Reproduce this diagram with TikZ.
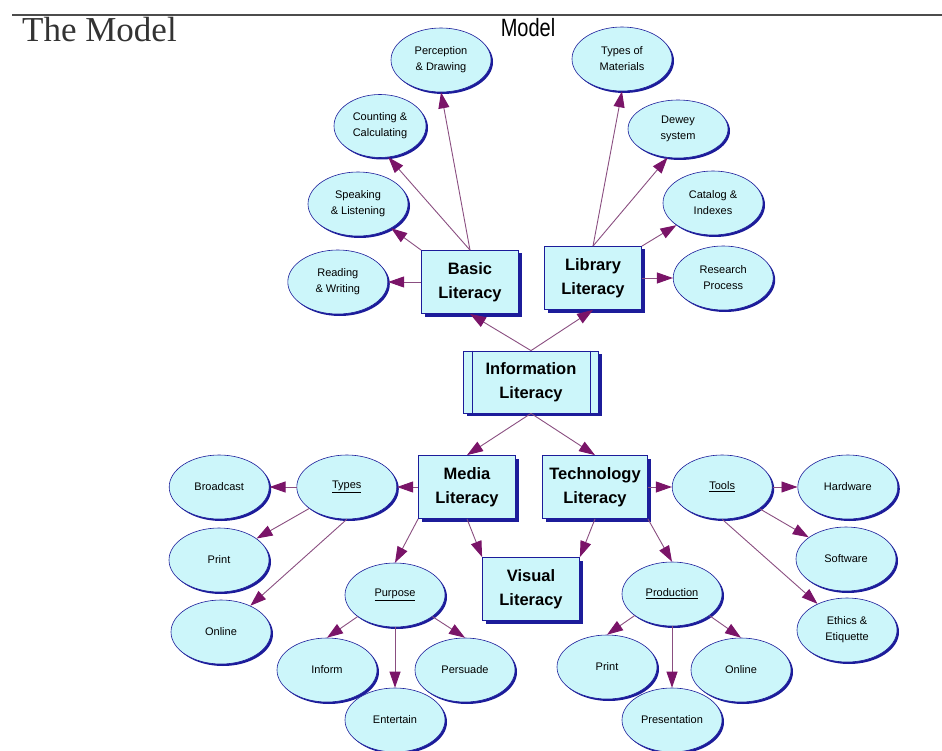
\documentclass[tikz,border=0pt]{standalone}
\usepackage{fontspec}
\setmainfont{Liberation Sans}
\newfontfamily\titlefont{Liberation Serif}
\usepackage{tikz}
\usetikzlibrary{positioning}
\usetikzlibrary{shapes.geometric}
\usetikzlibrary{shadows}
\usetikzlibrary{arrows.meta}

\definecolor{boxfill}{HTML}{CCF6FA}
\definecolor{boxline}{HTML}{1C1C9A}
\definecolor{arrline}{HTML}{8A4E80}
\definecolor{arrtip}{HTML}{7A1468}

\begin{document}
\begin{tikzpicture}[x=1pt,y=-1pt,
	lit/.style={rectangle, fill=boxfill, draw=boxline, line width=0.8pt, align=center, minimum width=97pt, minimum height=63pt, font=\fontsize{16.5}{24}\selectfont\bfseries, drop shadow={fill=boxline, opacity=1, shadow xshift=3pt, shadow yshift=-3pt}},
	topic/.style={ellipse, fill=boxfill, draw=boxline, line width=0.6pt, align=center, minimum width=100pt, minimum height=64pt, inner sep=0pt, font=\fontsize{11}{16}\selectfont, drop shadow={fill=boxline, opacity=1, shadow xshift=2pt, shadow yshift=-2pt}},
	link/.style={draw=arrline, line width=0.9pt, -{Triangle[length=16pt,width=11pt,color=arrtip]}}]
	\useasboundingbox (0,0) rectangle (942,751);
	\draw[black!70, line width=1.5pt] (12,15) -- (942,15);
	\node[anchor=base west, inner sep=0pt, text=black!80, font=\titlefont\fontsize{35}{35}\selectfont] at (22,42) (title) {The Model};
	\node[font=\fontsize{25}{25}\selectfont] at (528,28) (heading) {\scalebox{0.8}[1]{Model}};

	% centre
	\node[lit, minimum width=135pt, minimum height=62pt] at (531,382) (info) {Information\\Literacy};
	\draw[boxline, line width=0.6pt] ([xshift=9pt]info.north west) -- ([xshift=9pt]info.south west);
	\draw[boxline, line width=0.6pt] ([xshift=-9pt]info.north east) -- ([xshift=-9pt]info.south east);

	% basic literacy
	\node[lit] at (470,282) (basic) {Basic\\Literacy};
	\node[topic, left = 33pt of basic] (reading) {Reading\\\& Writing};
	\node[topic] at (358,204) (speaking) {Speaking\\\& Listening};
	\node[topic, minimum width=92pt, minimum height=63pt] at (380,126) (counting) {Counting \&\\Calculating};
	\node[topic] at (441,60) (perception) {Perception\\\& Drawing};

	% library literacy
	\node[lit] at (593,278) (library) {Library\\Literacy};
	\node[topic, right = 31pt of library] (research) {Research\\Process};
	\node[topic] at (713,203) (catalog) {Catalog \&\\Indexes};
	\node[topic, minimum height=58pt] at (678,129) (dewey) {Dewey\\system};
	\node[topic] at (622,59) (materials) {Types of\\Materials};

	% media literacy
	\node[lit] at (467,487) (media) {Media\\Literacy};
	\node[topic, left = 21pt of media] (types) {\underline{Types}};
	\node[topic, left = 27pt of types] (broadcast) {Broadcast};
	\node[topic] at (219,560) (print1) {Print};
	\node[topic] at (221,632) (online1) {Online};
	\node[topic] at (395,595) (purpose) {\underline{Purpose}};
	\node[topic] at (327,670) (inform) {Inform};
	\node[topic] at (395,720) (entertain) {Entertain};
	\node[topic] at (465,670) (persuade) {Persuade};

	% technology literacy
	\node[lit, minimum width=105pt] at (595,487) (tech) {Technology\\Literacy};
	\node[topic, right = 24pt of tech] (tools) {\underline{Tools}};
	\node[topic, right = 25pt of tools] (hardware) {Hardware};
	\node[topic] at (846,559) (software) {Software};
	\node[topic] at (847,630) (ethics) {Ethics \&\\Etiquette};
	\node[topic] at (672,594) (production) {\underline{Production}};
	\node[topic] at (607,667) (print2) {Print};
	\node[topic] at (672,720) (presentation) {Presentation};
	\node[topic] at (741,670) (online2) {Online};

	\node[lit] at (531,589) (visual) {Visual\\Literacy};

	\draw[link] (info.north) -- (basic.south);
	\draw[link] (info.north) -- (library.south);
	\draw[link] (basic.west) -- (reading.east);
	\draw[link] (basic.north west) -- (speaking);
	\draw[link] (basic.north) -- (counting.-75);
	\draw[link] (basic.north) -- (perception.south);
	\draw[link] (library.north) -- (materials.south);
	\draw[link] (library.north) -- (dewey.-110);
	\draw[link] (library.north east) -- (catalog);
	\draw[link] (library.east) -- (research.west);

	\draw[link] (info.south) -- (media.north);
	\draw[link] (info.south) -- (tech.north);
	\draw[link] (media.west) -- (types.east);
	\draw[link] (types.west) -- (broadcast.east);
	\draw[link] (types) -- (print1);
	\draw[link] (types.south) -- (online1);
	\draw[link] (media.south west) -- (purpose.north);
	\draw[link] (media.south) -- (visual.north west);
	\draw[link] (purpose.-150) -- (inform.north);
	\draw[link] (purpose.south) -- (entertain.north);
	\draw[link] (purpose.-30) -- (persuade.north);

	\draw[link] (tech.south) -- (visual.north east);
	\draw[link] (tech.south east) -- (production.north);
	\draw[link] (tech.east) -- (tools.west);
	\draw[link] (tools.east) -- (hardware.west);
	\draw[link] (tools) -- (software);
	\draw[link] (tools.south) -- (ethics);
	\draw[link] (production.-150) -- (print2.north);
	\draw[link] (production.south) -- (presentation.north);
	\draw[link] (production.-30) -- (online2.north);
\end{tikzpicture}
\end{document}
